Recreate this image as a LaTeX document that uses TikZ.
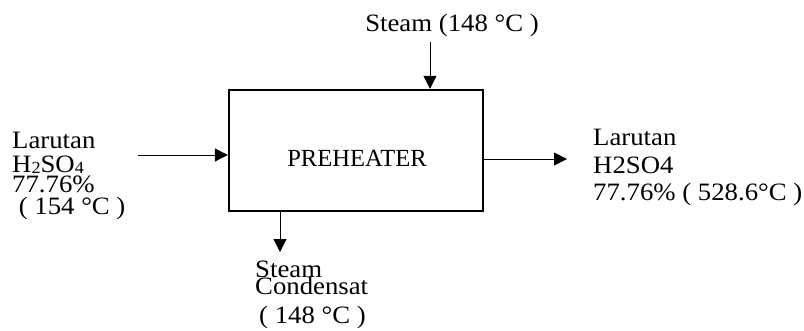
\documentclass[tikz,border=0pt]{standalone}
\usepackage{fontspec}
\setmainfont{Liberation Serif}
\usetikzlibrary{arrows.meta}
\begin{document}
\begin{tikzpicture}[x=1pt,y=-1pt,
  txt/.style={inner sep=0pt,anchor=base west,font=\fontsize{25}{25}\selectfont},
  flow/.style={draw,line width=1pt,-{Triangle[length=13pt,width=13pt]}}]
\useasboundingbox (0,0) rectangle (804,330);
\node[draw,line width=2.4pt,minimum width=254pt,minimum height=121pt,inner sep=0pt] (box) at (356,150.5) {};
\node[inner sep=0pt,anchor=base,font=\fontsize{24.6}{25}\selectfont] (ph) at (357,166) {PREHEATER};
% top steam
\node[txt,anchor=base] (st) at (452,31) {\scalebox{1.07}[1]{Steam (148 °C )}};
\coordinate (sttail) at (430,42);
\draw[flow] (sttail) -- (box.north -| sttail);
% left input
\node[txt] (l1) at (12,148) {\scalebox{1.07}[1]{Larutan}};
\node[txt] (l2) at (12,172) {\scalebox{1.07}[1]{H{\fontsize{17}{17}\selectfont\raisebox{-1pt}{2}}SO{\fontsize{17}{17}\selectfont\raisebox{-1pt}{4}}}};
\node[txt] (l3) at (12,192) {\scalebox{1.07}[1]{77.76\%}};
\node[txt] (l4) at (12,214) {\scalebox{1.07}[1]{\ ( 154 °C )}};
\coordinate (lin) at (138,155);
\draw[flow] (lin) -- (box.west |- lin);
% right output
\coordinate (rout) at (567,159);
\draw[flow] (box.east |- rout) -- (rout);
\node[txt] (r1) at (593,145) {\scalebox{1.07}[1]{Larutan}};
\node[txt] (r2) at (593,173) {\scalebox{1.07}[1]{H2SO4}};
\node[txt] (r3) at (593,200) {\scalebox{1.07}[1]{77.76\% ( 528.6°C )}};
% bottom condensate
\coordinate (cout) at (280,252);
\draw[flow] (box.south -| cout) -- (cout);
\node[txt] (b1) at (255,277) {\scalebox{1.07}[1]{Steam}};
\node[txt] (b2) at (255,294) {\scalebox{1.07}[1]{Condensat}};
\node[txt] (b3) at (259,323) {\scalebox{1.07}[1]{( 148 °C )}};
\end{tikzpicture}
\end{document}
